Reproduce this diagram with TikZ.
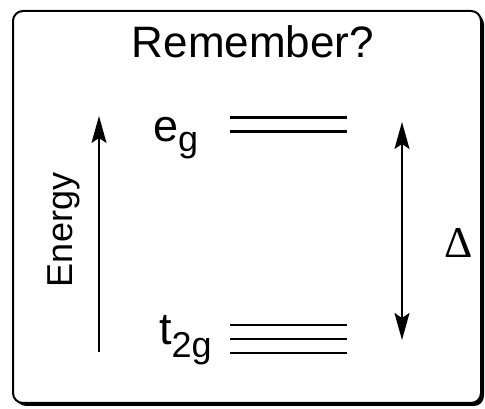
\documentclass[tikz,border=0pt]{standalone}
\usepackage{fontspec}
\setmainfont{Liberation Sans}
\newfontfamily\greekfont{Liberation Serif}
\usetikzlibrary{arrows.meta}
\tikzset{
	level/.style={line width=3pt},
	txt/.style={inner sep=0pt},
	tip/.style={-{Stealth[length=27pt,width=15pt,inset=5pt]}},
	tips/.style={{Stealth[length=27pt,width=15pt,inset=5pt]}-{Stealth[length=27pt,width=15pt,inset=5pt]}}
}
\newcommand{\orbital}[3]{{\fontsize{45}{45}\selectfont #1\raisebox{-#3pt}{\fontsize{36}{36}\selectfont #2}}}
\begin{document}
\begin{tikzpicture}[x=1pt,y=1pt]
				\useasboundingbox (0,0) rectangle (485,409);
				% frame with its shadow
				\fill[rounded corners=10pt] (16,3) rectangle (484,395);
				\draw[line width=2pt,fill=white,rounded corners=10pt] (13,6) rectangle (481,398);
				\node[txt,anchor=base] (title) at (253,351) {\fontsize{44}{44}\selectfont Remember?};
				\path
				(230,291) coordinate (eg1) (347,291) coordinate (eg2)
				(230,277) coordinate (eg3) (347,277) coordinate (eg4)
				(230,84) coordinate (t1) (347,84) coordinate (t2)
				(230,70) coordinate (t3) (347,70) coordinate (t4)
				(230,56) coordinate (t5) (347,56) coordinate (t6)
				(99,57) coordinate (Elo) (99,293) coordinate (Ehi)
				(402,69) coordinate (Dlo) (402,287) coordinate (Dhi);
				\draw[level] (eg1)--(eg2) (eg3)--(eg4);
				\draw[level,line width=2.5pt] (t1)--(t2) (t3)--(t4) (t5)--(t6);
				\node[txt,anchor=base west] (eg) at (153,267) {\orbital{e}{g}{10}};
				\node[txt,anchor=base west] (t2g) at (159,64) {\orbital{t}{2g}{13}};
				% energy axis
				\draw[tip,line width=1.5pt] (Elo)--(Ehi);
				\node[txt,rotate=90,anchor=base] (energy) at (72,179) {\fontsize{36}{36}\selectfont Energy};
				% splitting
				\draw[tips,line width=2pt] (Dlo)--(Dhi);
				\node[txt] (delta) at (459,166) {\greekfont\fontsize{44}{44}\selectfont Δ};
			\end{tikzpicture}
\end{document}
